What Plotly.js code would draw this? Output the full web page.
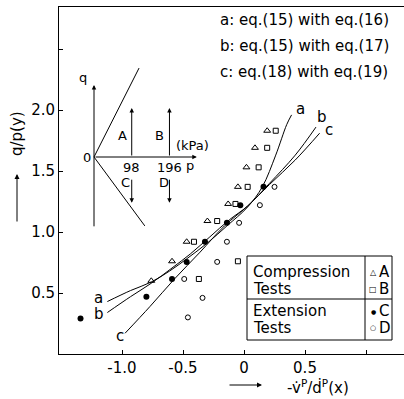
<!DOCTYPE html>
<html><head><meta charset="utf-8">
<script src="https://cdn.plot.ly/plotly-3.0.1.min.js"></script>
<style>html,body{margin:0;padding:0;background:#fff}#c{width:404px;height:399px}</style>
</head><body><div id="c"></div>
<script>
// ---- data ----
// Compression tests A (triangles)
const A_x = [-0.76,-0.59,-0.47,-0.30,-0.13,-0.05,0.02,0.09,0.19];
const A_y = [0.60,0.76,0.92,1.09,1.23,1.37,1.53,1.69,1.83];
// Compression tests B (squares)
const B_x = [-0.41,-0.22,-0.07,0.03,0.12,0.19,0.26,-0.05,-0.37];
const B_y = [0.92,1.09,1.23,1.37,1.53,1.69,1.83,0.76,0.615];
// Extension tests C (filled circles)
const C_x = [-1.34,-0.80,-0.59,-0.47,-0.32,-0.14,-0.03,0.16];
const C_y = [0.29,0.47,0.615,0.755,0.92,1.075,1.22,1.37];
// Extension tests D (open circles)
const D_x = [-0.49,-0.46,-0.34,-0.22,-0.14,-0.04,0.13,0.25];
const D_y = [0.615,0.30,0.46,0.755,0.92,1.075,1.22,1.37];
// curve a: eq.(15) with eq.(16)
const a_x = [-1.12,-0.93,-0.76,-0.61,-0.47,-0.30,-0.14,0.03,0.15,0.26,0.35,0.39];
const a_y = [0.43,0.52,0.59,0.68,0.78,0.91,1.05,1.205,1.37,1.63,1.88,1.96];
// curve b: eq.(15) with eq.(17)
const b_x = [-1.12,-0.93,-0.76,-0.59,-0.44,-0.28,-0.12,0.03,0.21,0.42,0.59];
const b_y = [0.34,0.47,0.58,0.705,0.82,0.96,1.10,1.213,1.40,1.63,1.86];
// curve c: eq.(18) with eq.(19)
const c_x = [-0.975,-0.77,-0.57,-0.36,-0.16,0.03,0.21,0.42,0.62];
const c_y = [0.17,0.39,0.615,0.835,1.05,1.213,1.39,1.59,1.81];
// inset stress-path sketch (kPa)
const compLine_p = [0,117], compLine_q = [0,231];
const extLine_p = [0,132], extLine_q = [0,-179];
const pathP = [98,196];
const pathLabelsUp = ['A','B'], pathLabelsDown = ['C','D'];
// ticks
const xTickVals = [-1,-0.5,0,0.5,1], xTickText = ['-1.0','-0.5','0','0.5',''];
const yTickVals = [0.5,1,1.5,2,2.5], yTickText = ['0.5','1.0','1.5','2.0',''];
const eqLabels = ['a: eq.(15) with eq.(16)','b: eq.(15) with eq.(17)','c: eq.(18) with eq.(19)'];

// ---- layout geometry ----
const W=404,H=399,L=59,R=404,T=7,B=354;
const pw=R-L, ph=B-T;
const PX = px => (px-L)/pw, PY = py => (B-py)/ph;
const F = 'DejaVu Sans';
const blk = '#000';

const traces = [
 {x:a_x,y:a_y,mode:'lines',line:{color:blk,width:1,shape:'spline'},xaxis:'x',yaxis:'y'},
 {x:b_x,y:b_y,mode:'lines',line:{color:blk,width:1,shape:'spline'}},
 {x:c_x,y:c_y,mode:'lines',line:{color:blk,width:1,shape:'spline'}},
 {x:A_x,y:A_y,mode:'markers',marker:{symbol:'triangle-up-open',size:6,color:blk,line:{width:1}}},
 {x:B_x,y:B_y,mode:'markers',marker:{symbol:'square-open',size:5,color:blk,line:{width:1}}},
 {x:C_x,y:C_y,mode:'markers',marker:{symbol:'circle',size:6,color:blk}},
 {x:D_x,y:D_y,mode:'markers',marker:{symbol:'circle-open',size:5,color:blk,line:{width:1}}},
 {x:compLine_p,y:compLine_q,mode:'lines',line:{color:blk,width:1},xaxis:'x2',yaxis:'y2',cliponaxis:false},
 {x:extLine_p,y:extLine_q,mode:'lines',line:{color:blk,width:1},xaxis:'x2',yaxis:'y2',cliponaxis:false}
];

const ann = [];
const txt = (x,y,t,o) => ann.push(Object.assign({x,y,text:t,showarrow:false,xanchor:'center',yanchor:'middle',font:{family:F,size:15,color:blk}},o||{}));
// eq labels
eqLabels.forEach((t,i)=>txt(PX(218),PY(20+26*i),t,{xref:'paper',yref:'paper',xanchor:'left'}));
// curve labels
txt(-1.19,0.455,'a',{xref:'x',yref:'y'});
txt(-1.19,0.325,'b',{xref:'x',yref:'y'});
txt(-1.02,0.15,'c',{xref:'x',yref:'y'});
txt(0.46,2.01,'a',{xref:'x',yref:'y'});
txt(0.64,1.94,'b',{xref:'x',yref:'y'});
txt(0.70,1.84,'c',{xref:'x',yref:'y'});
// axis titles
txt(PX(17),PY(134),'q/p(y)',{xref:'paper',yref:'paper',textangle:-90});
ann.push({xref:'paper',yref:'paper',x:PX(17),y:PY(174),ax:0,ay:49,text:'',showarrow:true,arrowhead:2,arrowsize:1,arrowwidth:1,arrowcolor:blk});
txt(PX(318),PY(387),'-v\u0307<sup>P</sup>/\u1E0B<sup>P</sup>(x)',{xref:'paper',yref:'paper'});
ann.push({xref:'paper',yref:'paper',x:PX(262),y:PY(385),ax:-34,ay:0,text:'',showarrow:true,arrowhead:2,arrowsize:1,arrowwidth:1,arrowcolor:blk});
// inset arrows
const arr = (x,y,ax,ay) => ann.push({xref:'x2',yref:'y2',axref:'x2',ayref:'y2',x,y,ax,ay,text:'',showarrow:true,arrowhead:2,arrowsize:0.9,arrowwidth:1,arrowcolor:blk,standoff:0,startstandoff:0});
arr(267,0,0,0);
arr(0,187,0,-184);
pathP.forEach(p=>{arr(p,127,p,0); arr(p,-119,p,-55);});
const it = (x,y,t,o) => txt(x,y,t,Object.assign({xref:'x2',yref:'y2',font:{family:F,size:13,color:blk}},o||{}));
pathP.forEach((p,i)=>{
  it(p-25,55,pathLabelsUp[i]); it(p-15,-67,pathLabelsDown[i]);
  it(p,-27,String(p));
});
it(257,30,'(kPa)'); it(249,-21,'p'); it(-29,207,'q'); it(-17,-2,'0');
// legend table
const lx0=247,lx1=392,ly0=256,ly1=340,lym=299,lxd=365;
const shapes = [
 {type:'rect',xref:'paper',yref:'paper',x0:PX(lx0),x1:PX(lx1),y0:PY(ly1),y1:PY(ly0),line:{color:blk,width:1}},
 {type:'line',xref:'paper',yref:'paper',x0:PX(lx0),x1:PX(lx1),y0:PY(lym),y1:PY(lym),line:{color:blk,width:1}},
 {type:'line',xref:'paper',yref:'paper',x0:PX(lxd),x1:PX(lxd),y0:PY(ly1),y1:PY(ly0),line:{color:blk,width:1}}
];
const lt = (px,py,t) => txt(PX(px),PY(py),t,{xref:'paper',yref:'paper',xanchor:'left',font:{family:F,size:15,color:blk}});
lt(251,272,'Compression'); lt(251,289,'Tests'); lt(251,311,'Extension'); lt(251,328,'Tests');
const ls = (py,sym,letter,sz) => { txt(PX(373),PY(py),sym,{xref:'paper',yref:'paper',font:{family:F,size:sz,color:blk}}); lt(377,py,letter); };
ls(272,'\u25B3','A',8); ls(289,'\u25A1','B',8); ls(311,'\u25CF','C',6); ls(328,'\u25CB','D',7);

const layout = {
 width:W,height:H,margin:{l:L,r:W-R,t:T,b:H-B},
 paper_bgcolor:'#fff',plot_bgcolor:'rgba(0,0,0,0)',showlegend:false,
 font:{family:F,size:15,color:blk},
 xaxis:{range:[(L-244)/122,(R-244)/122],tickvals:xTickVals,ticktext:xTickText,ticks:'inside',ticklen:4,tickcolor:blk,
   showline:true,linecolor:blk,linewidth:1,mirror:true,showgrid:false,zeroline:false,tickfont:{family:F,size:15,color:blk},domain:[0,1],anchor:'y'},
 yaxis:{range:[1-(B-232)/122,1+(232-T)/122],tickvals:yTickVals,ticktext:yTickText,ticks:'inside',ticklen:4,tickcolor:blk,
   showline:true,linecolor:blk,linewidth:1,mirror:false,showgrid:false,zeroline:false,tickfont:{family:F,size:15,color:blk},domain:[0,1],anchor:'x'},
 xaxis2:{domain:[PX(80),PX(220)],range:[(80-94)/0.385,(220-94)/0.385],visible:false,anchor:'y2'},
 yaxis2:{domain:[PY(240),PY(60)],range:[(157-240)/0.385,(157-60)/0.385],visible:false,anchor:'x2'},
 annotations:ann,shapes:shapes
};
Plotly.newPlot('c',traces,layout,{staticPlot:true,displayModeBar:false});
</script></body></html>
